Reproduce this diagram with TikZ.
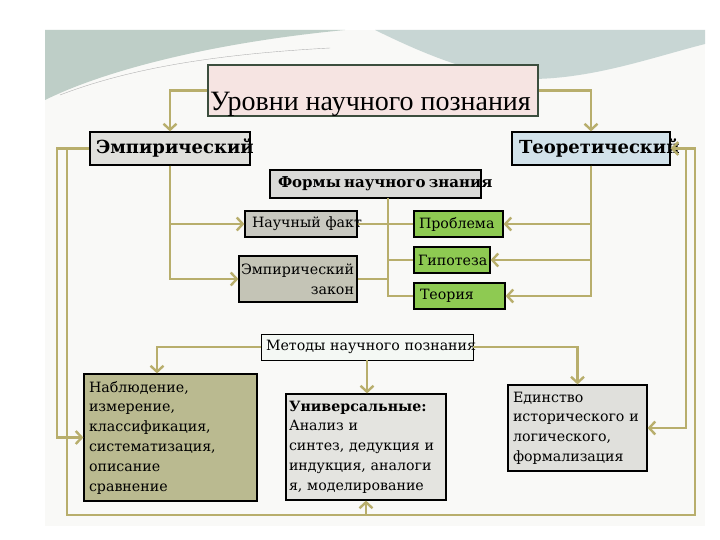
\documentclass[tikz,border=0pt]{standalone}
\usepackage{fontspec}
\setmainfont{DejaVu Serif}
\newfontfamily\titlefont{Liberation Serif}
\usetikzlibrary{arrows.meta}
\definecolor{conn}{RGB}{184,174,108}
\definecolor{bandA}{RGB}{190,206,199}
\definecolor{bandB}{RGB}{200,214,212}
\definecolor{slide}{RGB}{249,249,247}
\definecolor{titlefill}{RGB}{246,228,226}
\definecolor{titledraw}{RGB}{60,78,62}
\definecolor{grayA}{RGB}{224,224,220}
\definecolor{blueA}{RGB}{210,226,234}
\definecolor{grayB}{RGB}{218,218,216}
\definecolor{grayC}{RGB}{200,200,192}
\definecolor{grayD}{RGB}{196,196,182}
\definecolor{greenA}{RGB}{142,202,82}
\definecolor{olive}{RGB}{186,186,144}
\definecolor{grayE}{RGB}{228,228,224}
\definecolor{methfill}{RGB}{244,248,244}
\tikzset{
  box/.style={draw=black, line width=1.2pt, inner sep=0pt},
  conn/.style={draw=conn, line width=2.6pt},
  arr/.style={conn, -{Straight Barb[length=6pt,width=13pt,line width=2.4pt]}},
  bodytxt/.style={font=\fontsize{14.2}{19.8}\selectfont},
}
\begin{document}
\begin{tikzpicture}[x=1pt,y=-1pt]
\useasboundingbox (0,0) rectangle (720,540);
\fill[white] (0,0) rectangle (720,540);
% slide background
\fill[slide] (45,30) rectangle (705,526);
\fill[bandA] (45,30) -- (345,30) .. controls (220,42) and (110,68) .. (45,100) -- cycle;
\fill[bandB] (375,30) -- (705,30) -- (705,44) .. controls (650,58) and (590,80) .. (525,79)
   .. controls (470,74) and (420,52) .. (375,30) -- cycle;
\draw[gray!60, line width=0.4pt] (60,95) .. controls (120,72) and (200,55) .. (330,48);

% title
\node[draw=titledraw, fill=titlefill, line width=1.8pt, minimum width=330, minimum height=51, inner sep=0pt] (title) at (373,90.5) {};
\node[anchor=base west, inner sep=0pt, font=\titlefont\fontsize{28}{28}\selectfont] (titletxt) at (210,111) {Уровни научного познания};

% level boxes
\node[box, fill=grayA, minimum width=160, minimum height=33, text width=154, align=left] (emp) at (170,148.5)
  {\hspace{3pt}\makebox[0pt][l]{\fontsize{18}{18}\selectfont\bfseries Эмпирический}};
\node[box, fill=blueA, minimum width=158, minimum height=33, text width=152, align=left] (teo) at (591,148.5)
  {\hspace{4pt}\makebox[0pt][l]{\fontsize{18}{18}\selectfont\bfseries Теоретический}};

% forms
\node[box, fill=grayB, minimum width=211, minimum height=28, text width=205, align=left] (forms) at (375.5,184)
  {\hspace{5pt}\makebox[0pt][l]{\fontsize{15}{15}\selectfont\bfseries Формы научного знания}};
\node[box, fill=grayC, minimum width=112, minimum height=26, text width=106, align=left, bodytxt] (fact) at (301,224)
  {\hspace{4pt}\makebox[0pt][l]{Научный факт}};
\node[box, fill=grayD, minimum width=118, minimum height=46, text width=112, align=right, bodytxt] (law) at (298,279)
  {\makebox[0pt][r]{Эмпирический}\\закон};
\node[box, fill=greenA, minimum width=89, minimum height=26, text width=83, align=left, bodytxt] (prob) at (458.5,224)
  {\hspace{2pt}\makebox[0pt][l]{Проблема}};
\node[box, fill=greenA, minimum width=76, minimum height=26, text width=72, align=left, bodytxt] (hyp) at (452,260)
  {\hspace{2pt}\makebox[0pt][l]{Гипотеза}};
\node[box, fill=greenA, minimum width=91, minimum height=26, text width=83, align=left, bodytxt] (theory) at (459.5,296)
  {\hspace{2pt}Теория};

% methods
\node[box, line width=0.9pt, fill=methfill, minimum width=212, minimum height=26, text width=206, align=left, bodytxt] (meth) at (367,347)
  {\hspace{2pt}\makebox[0pt][l]{Методы научного познания}};
\node[box, fill=olive, minimum width=173, minimum height=127, text width=163, align=left, bodytxt] (obs) at (170.5,437.5)
  {Наблюдение,\\измерение,\\классификация,\\систематизация,\\описание\\сравнение};
\node[box, fill=grayE, minimum width=160, minimum height=106, text width=154, align=left, bodytxt] (univ) at (366,447)
  {\textbf{Универсальные:}\\Анализ и\\\makebox[0pt][l]{синтез, дедукция и}\\\makebox[0pt][l]{индукция, аналоги}\\\makebox[0pt][l]{я, моделирование}};
\node[box, fill=grayA, minimum width=139, minimum height=86, text width=129, align=left, bodytxt] (unity) at (577.5,428)
  {Единство\\\makebox[0pt][l]{исторического и}\\логического,\\формализация};

% coordinates for routing
\coordinate (fv) at (388,198);
\coordinate (L1) at (57,0);
\coordinate (L2) at (67,0);
\coordinate (R1) at (686,0);
\coordinate (R2) at (695,0);
\coordinate (bot) at (0,515);
\coordinate (obsin) at (157,0);

% connectors
\draw[arr] (title.west) -| (emp.north);
\draw[arr] (title.east) -| (teo.north);
\draw[arr] (emp.south) |- (fact.west);
\draw[arr] (emp.south) |- (law.west);
\draw[arr] (teo.south) |- (prob.east);
\draw[arr] (teo.south) |- (hyp.east);
\draw[arr] (teo.south) |- (theory.east);
\draw[conn] (fact.east) -- (prob.west);
\draw[conn] (fv) |- (theory.west);
\draw[conn] (fv |- hyp.west) -- (hyp.west);
\draw[conn] (law.east) -- (law.east -| fv);
\draw[arr] (meth.west) -| (obsin |- obs.north);
\draw[arr] (meth.east) -| (unity.north);
\draw[arr] (meth.south) -- (meth.south |- univ.north);
\draw[arr] (emp.west) -| (L1 |- obs.west) -- (obs.west);
\draw[arr] (emp.west -| L2) -- (L2 |- bot) -- (R2 |- bot) -- (R2 |- teo.east) -- (teo.east);
\draw[arr] (univ.south |- bot) -- (univ.south);
\draw[arr] (teo.east -| R1) |- (unity.east);
\end{tikzpicture}
\end{document}
